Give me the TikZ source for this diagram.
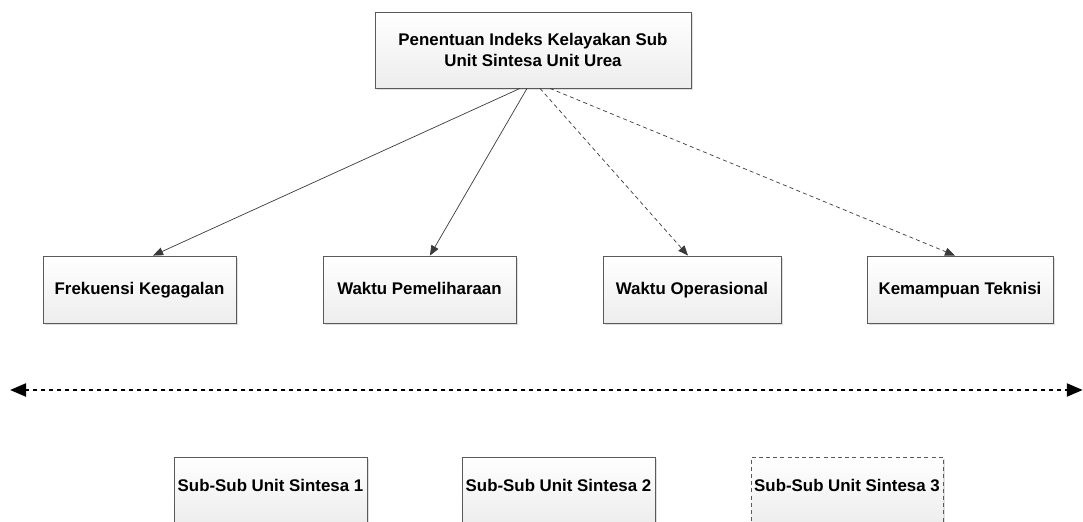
\documentclass[tikz,border=0pt]{standalone}
\usepackage{fontspec}
\setmainfont{Liberation Sans}
\usetikzlibrary{arrows.meta,shadows}
\definecolor{cEdge}{HTML}{5A5A5A}
\definecolor{cLine}{HTML}{3A3A3A}

\begin{document}
\begin{tikzpicture}[x=1cm, y=1cm,
  box/.style={draw=cEdge, line width=0.6pt, top color=white, bottom color=black!7,
    drop shadow={opacity=0.25, shadow xshift=1.5pt, shadow yshift=-1.5pt},
    font=\fontsize{12}{15}\selectfont\bfseries, align=center, inner sep=2pt,
    minimum height=1.675cm},
  crit/.style={box, text height=0.716em, text depth=0pt},
  unit/.style={box, text height=0.716em, text depth=0.55em},
  link/.style={draw=cLine, line width=0.5pt, -{Triangle[length=0.25cm, width=0.2cm]}},
  dlink/.style={link, dash pattern=on 0.1cm off 0.08cm}]
\useasboundingbox (0,0) rectangle (27.075,13.05);
\clip (0,0) rectangle (27.075,13.05);
% ---- top: the goal ---------------------------------------------------------------------------------
\node[box, minimum width=7.9cm, minimum height=1.9cm] (goal) at (13.325,11.8)
  {Penentuan Indeks Kelayakan Sub\\ Unit Sintesa Unit Urea};
% ---- level 1: the criteria --------------------------------------------------------------------------
\node[crit, minimum width=4.825cm] (frek) at (3.4875,5.8125) {Frekuensi Kegagalan};
\node[crit, minimum width=4.825cm] (pem) at (10.4875,5.8125) {Waktu Pemeliharaan};
\node[crit, minimum width=4.45cm] (ops) at (17.3,5.8125) {Waktu Operasional};
\node[crit, minimum width=4.65cm] (tek) at (24.0,5.8125) {Kemampuan Teknisi};
\draw[link] ([xshift=-0.325cm]goal.south) -- ([xshift=0.34cm]frek.north);
\draw[link] ([xshift=-0.15cm]goal.south) -- ([xshift=0.26cm]pem.north);
\draw[dlink] ([xshift=0.175cm]goal.south) -- ([xshift=-0.1cm]ops.north);
\draw[dlink] ([xshift=0.425cm]goal.south) -- ([xshift=-0.125cm]tek.north);
% ---- the divider --------------------------------------------------------------------------------------
\coordinate (divL) at (0.25,3.3);
\coordinate (divR) at (27.07,3.3);
\draw[line width=2pt, dash pattern=on 0.09cm off 0.11cm,
  {Triangle[length=0.4cm, width=0.32cm]}-{Triangle[length=0.4cm, width=0.32cm]}] (divL) -- (divR);
% ---- level 2: the sub-sub units ---------------------------------------------------------------------
\node[unit, minimum width=4.825cm] (sub1) at (6.7625,0.7875) {Sub-Sub Unit Sintesa 1};
\node[unit, minimum width=4.825cm] (sub2) at (13.9625,0.7875) {Sub-Sub Unit Sintesa 2};
\node[unit, minimum width=4.8cm, dash pattern=on 0.1cm off 0.08cm] (sub3) at (21.175,0.7875) {Sub-Sub Unit Sintesa 3};
\end{tikzpicture}
\end{document}
